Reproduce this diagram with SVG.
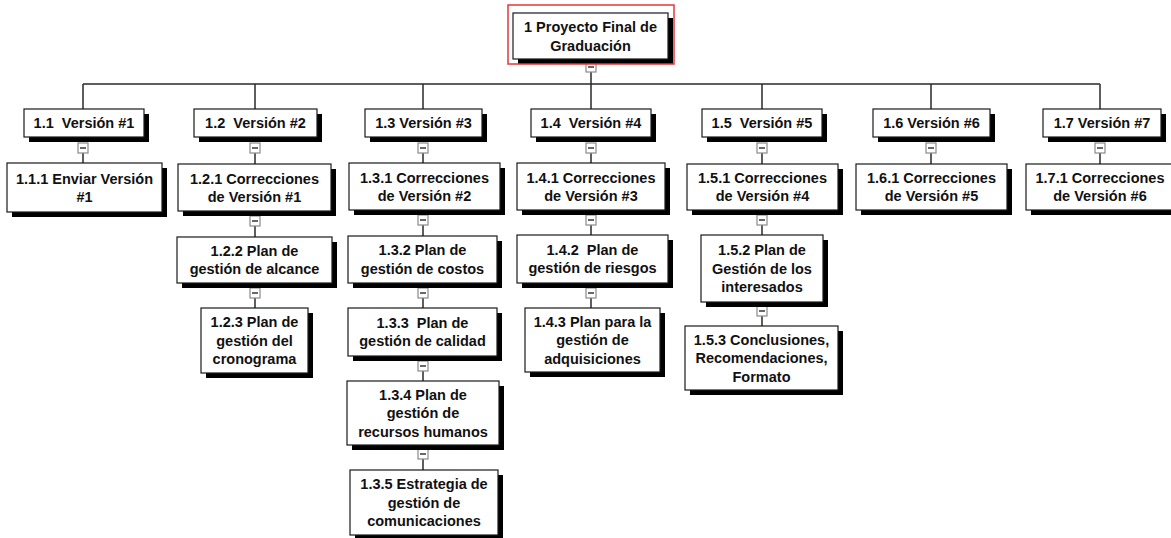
<svg xmlns="http://www.w3.org/2000/svg" xmlns:xlink="http://www.w3.org/1999/xlink" width="1171" height="538" viewBox="0 0 1171 538">
<style>
  .box { fill: #ffffff; stroke: #1a1a1a; stroke-width: 1.2; }
  .shadow { fill: #000000; }
  .t { font-family: "Liberation Sans", Arial, sans-serif; font-weight: bold; font-size: 14.5px; fill: #111111; text-anchor: middle; white-space: pre; }
  .conn { stroke: #2a2a2a; stroke-width: 1.5; fill: none; }
  .tgbox { fill: #ffffff; stroke: #8a8a8a; stroke-width: 1.2; }
  .tgbar { stroke: #444444; stroke-width: 1.6; }
  .sel { fill: none; stroke: #e8353a; stroke-width: 1.5; }
</style>
<defs>
  <g id="tg">
    <rect class="tgbox" x="-5" y="0" width="10" height="10"/>
    <line class="tgbar" x1="-3" y1="5" x2="3" y2="5"/>
  </g>
</defs>
<rect width="1171" height="538" fill="#ffffff"/>

<g id="connectors">
  <path class="conn" d="M591 72 V84 M83 84 H1100 M83 84 V109 M255 84 V109 M423 84 V109 M591 84 V109 M762 84 V109 M931 84 V109 M1100 84 V109"/>
  <path class="conn" d="M83 153 V163 M255 153 V164 M423 153 V163 M591 153 V163 M762 153 V164 M931 153 V164 M1100 153 V164"/>
  <path class="conn" d="M255 226 V237 M255 298 V308"/>
  <path class="conn" d="M423 225 V236 M423 298 V308 M423 371 V381 M423 459 V470"/>
  <path class="conn" d="M591 225 V235 M591 298 V308"/>
  <path class="conn" d="M762 225 V235 M762 316 V326"/>
  <use href="#tg" x="591" y="62"/>
  <use href="#tg" x="83" y="143"/>
  <use href="#tg" x="255" y="143"/>
  <use href="#tg" x="423" y="143"/>
  <use href="#tg" x="591" y="143"/>
  <use href="#tg" x="762" y="143"/>
  <use href="#tg" x="931" y="143"/>
  <use href="#tg" x="1100" y="143"/>
  <use href="#tg" x="255" y="216"/>
  <use href="#tg" x="255" y="288"/>
  <use href="#tg" x="423" y="215"/>
  <use href="#tg" x="423" y="288"/>
  <use href="#tg" x="423" y="361"/>
  <use href="#tg" x="423" y="449"/>
  <use href="#tg" x="591" y="215"/>
  <use href="#tg" x="591" y="288"/>
  <use href="#tg" x="762" y="215"/>
  <use href="#tg" x="762" y="306"/>
</g>

<g id="n1">
  <rect class="shadow" x="518" y="18" width="155" height="46"/>
  <rect class="box" x="513" y="13" width="155" height="46"/>
  <rect class="sel" x="508" y="5" width="166" height="59"/>
  <text class="t" x="590.5" y="32">1 Proyecto Final de</text>
  <text class="t" x="590.5" y="50.5">Graduación</text>
</g>

<g id="n1-1">
  <rect class="shadow" x="29" y="114" width="120" height="28"/>
  <rect class="box" x="24" y="109" width="120" height="28"/>
  <text class="t" x="84" y="128" xml:space="preserve">1.1  Versión #1</text>
</g>
<g id="n1-2">
  <rect class="shadow" x="199" y="114" width="123" height="28"/>
  <rect class="box" x="194" y="109" width="123" height="28"/>
  <text class="t" x="255.5" y="128" xml:space="preserve">1.2  Versión #2</text>
</g>
<g id="n1-3">
  <rect class="shadow" x="370" y="114" width="117" height="28"/>
  <rect class="box" x="365" y="109" width="117" height="28"/>
  <text class="t" x="423.5" y="128">1.3 Versión #3</text>
</g>
<g id="n1-4">
  <rect class="shadow" x="536" y="114" width="120" height="28"/>
  <rect class="box" x="531" y="109" width="120" height="28"/>
  <text class="t" x="591" y="128" xml:space="preserve">1.4  Versión #4</text>
</g>
<g id="n1-5">
  <rect class="shadow" x="707" y="114" width="120" height="28"/>
  <rect class="box" x="702" y="109" width="120" height="28"/>
  <text class="t" x="762" y="128" xml:space="preserve">1.5  Versión #5</text>
</g>
<g id="n1-6">
  <rect class="shadow" x="878" y="114" width="117" height="28"/>
  <rect class="box" x="873" y="109" width="117" height="28"/>
  <text class="t" x="931.5" y="128">1.6 Versión #6</text>
</g>
<g id="n1-7">
  <rect class="shadow" x="1048" y="114" width="118" height="28"/>
  <rect class="box" x="1043" y="109" width="118" height="28"/>
  <text class="t" x="1102" y="128">1.7 Versión #7</text>
</g>

<g id="n1-1-1">
  <rect class="shadow" x="12" y="168" width="155" height="49"/>
  <rect class="box" x="7" y="163" width="155" height="49"/>
  <text class="t" x="84.5" y="183.5">1.1.1 Enviar Versión</text>
  <text class="t" x="84.5" y="202">#1</text>
</g>
<g id="n1-2-1">
  <rect class="shadow" x="183" y="169" width="153" height="47"/>
  <rect class="box" x="178" y="164" width="153" height="47"/>
  <text class="t" x="254.5" y="183.5">1.2.1 Correcciones</text>
  <text class="t" x="254.5" y="202">de Versión #1</text>
</g>
<g id="n1-2-2">
  <rect class="shadow" x="182" y="242" width="155" height="46"/>
  <rect class="box" x="177" y="237" width="155" height="46"/>
  <text class="t" x="254.5" y="255.75">1.2.2 Plan de</text>
  <text class="t" x="254.5" y="274.25">gestión de alcance</text>
</g>
<g id="n1-2-3">
  <rect class="shadow" x="206" y="313" width="107" height="65"/>
  <rect class="box" x="201" y="308" width="107" height="65"/>
  <text class="t" x="254.5" y="327">1.2.3 Plan de</text>
  <text class="t" x="254.5" y="345.5">gestión del</text>
  <text class="t" x="254.5" y="364">cronograma</text>
</g>

<g id="n1-3-1">
  <rect class="shadow" x="354" y="168" width="151" height="47"/>
  <rect class="box" x="349" y="163" width="151" height="47"/>
  <text class="t" x="424.5" y="182.5">1.3.1 Correcciones</text>
  <text class="t" x="424.5" y="201">de Versión #2</text>
</g>
<g id="n1-3-2">
  <rect class="shadow" x="353" y="241" width="149" height="47"/>
  <rect class="box" x="348" y="236" width="149" height="47"/>
  <text class="t" x="422.5" y="255.25">1.3.2 Plan de</text>
  <text class="t" x="422.5" y="273.75">gestión de costos</text>
</g>
<g id="n1-3-3">
  <rect class="shadow" x="353" y="313" width="149" height="48"/>
  <rect class="box" x="348" y="308" width="149" height="48"/>
  <text class="t" x="422.5" y="327.75" xml:space="preserve">1.3.3  Plan de</text>
  <text class="t" x="422.5" y="346.25">gestión de calidad</text>
</g>
<g id="n1-3-4">
  <rect class="shadow" x="352" y="386" width="152" height="64"/>
  <rect class="box" x="347" y="381" width="152" height="64"/>
  <text class="t" x="423" y="399.5">1.3.4 Plan de</text>
  <text class="t" x="423" y="418">gestión de</text>
  <text class="t" x="423" y="436.5">recursos humanos</text>
</g>
<g id="n1-3-5">
  <rect class="shadow" x="355" y="475" width="148" height="65"/>
  <rect class="box" x="350" y="470" width="148" height="65"/>
  <text class="t" x="424" y="489">1.3.5 Estrategia de</text>
  <text class="t" x="424" y="507.5">gestión de</text>
  <text class="t" x="424" y="526">comunicaciones</text>
</g>

<g id="n1-4-1">
  <rect class="shadow" x="522" y="168" width="148" height="47"/>
  <rect class="box" x="517" y="163" width="148" height="47"/>
  <text class="t" x="591" y="182.5">1.4.1 Correcciones</text>
  <text class="t" x="591" y="201">de Versión #3</text>
</g>
<g id="n1-4-2">
  <rect class="shadow" x="522" y="240" width="151" height="48"/>
  <rect class="box" x="517" y="235" width="151" height="48"/>
  <text class="t" x="592.5" y="254.75" xml:space="preserve">1.4.2  Plan de</text>
  <text class="t" x="592.5" y="273.25">gestión de riesgos</text>
</g>
<g id="n1-4-3">
  <rect class="shadow" x="530" y="313" width="135" height="64"/>
  <rect class="box" x="525" y="308" width="135" height="64"/>
  <text class="t" x="592.5" y="326.5">1.4.3 Plan para la</text>
  <text class="t" x="592.5" y="345">gestión de</text>
  <text class="t" x="592.5" y="363.5">adquisiciones</text>
</g>

<g id="n1-5-1">
  <rect class="shadow" x="692" y="169" width="151" height="46"/>
  <rect class="box" x="687" y="164" width="151" height="46"/>
  <text class="t" x="762.5" y="182.75">1.5.1 Correcciones</text>
  <text class="t" x="762.5" y="201.25">de Versión #4</text>
</g>
<g id="n1-5-2">
  <rect class="shadow" x="706" y="240" width="122" height="67"/>
  <rect class="box" x="701" y="235" width="122" height="67"/>
  <text class="t" x="762" y="255">1.5.2 Plan de</text>
  <text class="t" x="762" y="273.5">Gestión de los</text>
  <text class="t" x="762" y="292">interesados</text>
</g>
<g id="n1-5-3">
  <rect class="shadow" x="690" y="331" width="153" height="64"/>
  <rect class="box" x="685" y="326" width="153" height="64"/>
  <text class="t" x="761.5" y="344.5">1.5.3 Conclusiones,</text>
  <text class="t" x="761.5" y="363">Recomendaciones,</text>
  <text class="t" x="761.5" y="381.5">Formato</text>
</g>

<g id="n1-6-1">
  <rect class="shadow" x="861" y="169" width="151" height="46"/>
  <rect class="box" x="856" y="164" width="151" height="46"/>
  <text class="t" x="931.5" y="182.75">1.6.1 Correcciones</text>
  <text class="t" x="931.5" y="201.25">de Versión #5</text>
</g>
<g id="n1-7-1">
  <rect class="shadow" x="1031" y="169" width="148" height="46"/>
  <rect class="box" x="1026" y="164" width="148" height="46"/>
  <text class="t" x="1100" y="182.75">1.7.1 Correcciones</text>
  <text class="t" x="1100" y="201.25">de Versión #6</text>
</g>
</svg>
